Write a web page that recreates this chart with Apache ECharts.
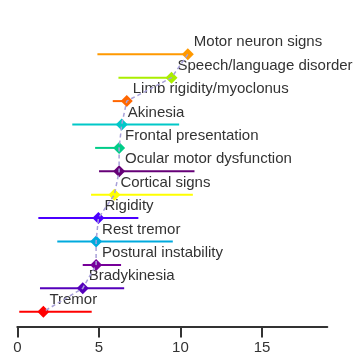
<!DOCTYPE html>
<html>
<head>
<meta charset="utf-8">
<script src="https://cdn.jsdelivr.net/npm/echarts@6/dist/echarts.min.js"></script>
<style>html,body{margin:0;padding:0;background:#fff;}#c{width:358px;height:356px;}</style>
</head>
<body>
<div id="c"></div>
<script>
const categories = ["Motor neuron signs","Speech/language disorder","Limb rigidity/myoclonus","Akinesia","Frontal presentation","Ocular motor dysfunction","Cortical signs","Rigidity","Rest tremor","Postural instability","Bradykinesia","Tremor"];
const estimates = [10.45, 9.45, 6.71, 6.40, 6.24, 6.24, 5.95, 4.97, 4.83, 4.83, 4.01, 1.60];
const lower = [4.91, 6.20, 5.85, 3.37, 4.77, 5.01, 4.52, 1.29, 2.45, 4.01, 1.39, 0.12];
const upper = [10.45, 9.45, 6.71, 9.92, 6.24, 10.86, 10.76, 7.42, 9.53, 6.36, 6.55, 4.56];
const colors = ["#ff9900","#aaee00","#ff6600","#00c8c8","#00cc88","#660077","#ffff00","#4b00ff","#00aadd","#770099","#5500bb","#ff0000"];
const xTicks = [0, 5, 10, 15];

const FONT = "'Liberation Sans', Arial, Helvetica, sans-serif";
const chart = echarts.init(document.getElementById('c'), null, {renderer: 'canvas'});

const barData = categories.map((c, i) => ({value: [lower[i], upper[i], i], itemStyle: {color: colors[i]}}));
const pointData = categories.map((c, i) => ({value: [estimates[i], i], itemStyle: {color: colors[i], opacity: 1}}));
const lineData = categories.map((c, i) => [estimates[i], i]);

chart.setOption({
  animation: false,
  backgroundColor: '#fff',
  grid: {left: 17.3, right: 30.7, top: 42.6, bottom: 32.6, containLabel: false, outerBoundsMode: 'none'},
  xAxis: {
    type: 'value', min: 0, max: 19, interval: 5, offset: 3,
    splitLine: {show: false},
    axisLine: {show: true, lineStyle: {color: '#333', width: 2}},
    axisTick: {show: true, length: 11, lineStyle: {color: '#333', width: 2}, customValues: xTicks},
    axisLabel: {color: '#333', fontSize: 15, fontFamily: FONT, margin: 14, customValues: xTicks}
  },
  yAxis: {
    type: 'category', data: categories, inverse: true,
    axisLine: {show: false}, axisTick: {show: false}, axisLabel: {show: false}, splitLine: {show: false}
  },
  series: [
    {
      type: 'custom', z: 1,
      encode: {x: [0, 1], y: 2},
      data: barData,
      renderItem: function (params, api) {
        const a = api.coord([api.value(0), api.value(2)]);
        const b = api.coord([api.value(1), api.value(2)]);
        return {type: 'line', shape: {x1: a[0], y1: a[1], x2: b[0], y2: b[1]},
          style: {stroke: api.visual('color'), lineWidth: 2}};
      }
    },
    {
      type: 'scatter', z: 2, symbol: 'diamond', symbolSize: 12,
      itemStyle: {opacity: 1},
      data: pointData,
      label: {show: true, position: 'right', distance: 0, offset: [0, -12],
        formatter: function (p) { return categories[p.dataIndex]; },
        color: '#333', fontSize: 15, fontFamily: FONT}
    },
    {
      type: 'line', z: 3, symbol: 'none', silent: true,
      data: lineData,
      lineStyle: {color: '#a7a0d8', width: 1.5, type: [4, 3]}
    }
  ]
});
</script>
</body>
</html>
